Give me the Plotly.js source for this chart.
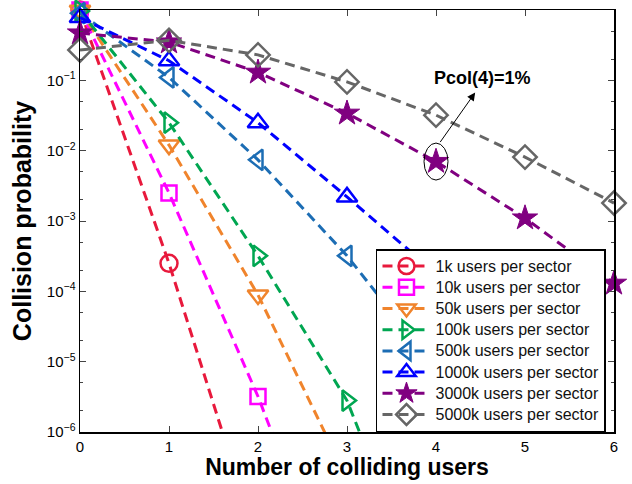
<!DOCTYPE html>
<html><head><meta charset="utf-8">
<script src="https://cdn.plot.ly/plotly-3.0.1.min.js"></script>
<style>html,body{margin:0;padding:0;background:#fff}</style>
</head><body><div id="chart" style="width:632px;height:484px"></div>
<script>
// ---- data ----
const colliding = [0, 1, 2, 3, 4, 5, 6];
const seriesNames = ["1k users per sector", "10k users per sector", "50k users per sector", "100k users per sector",
  "500k users per sector", "1000k users per sector", "3000k users per sector", "5000k users per sector"];
const p1k    = [0.999, 2.5e-4, 2.5e-8];
const p10k   = [0.998, 2.5e-3, 3.2e-6, 1.6e-9];
const p50k   = [0.99, 1.2e-2, 8.9e-5, 2.2e-7];
const p100k  = [0.97, 2.5e-2, 3.2e-4, 2.8e-6, 1.8e-9];
const p500k  = [0.9, 0.11, 7.4e-3, 3.2e-4, 8e-6, 2e-7];
const p1000k = [0.78, 0.19, 2.5e-2, 2.2e-3, 1.8e-4, 8e-6, 2.5e-7];
const p3000k = [0.47, 0.35, 0.13, 0.034, 7e-3, 1.1e-3, 1.3e-4];
const p5000k = [0.27, 0.37, 0.23, 0.095, 0.032, 8.1e-3, 1.8e-3];
const yTickVals = [1e-6, 1e-5, 1e-4, 1e-3, 1e-2, 1e-1, 1];
const yTickText = ["10<sup>−6</sup>", "10<sup>−5</sup>", "10<sup>−4</sup>", "10<sup>−3</sup>", "10<sup>−2</sup>", "10<sup>−1</sup>", "10<sup>0</sup>"];
const annotText = "Pcol(4)=1%";

// ---- styling ----
const allSeries = [p1k, p10k, p50k, p100k, p500k, p1000k, p3000k, p5000k];
const colors = ["#e8193c", "#ff00ff", "#f0842c", "#00a651", "#1c6db4", "#0000ff", "#800080", "#666666"];
const symbols = ["circle-open", "square-open", "triangle-down-open", "triangle-right-open",
  "triangle-left-open", "triangle-up-open", "star", "diamond-open"];
const sizes = [17, 15, 18, 18, 18, 18, 19, 18];
const FONT = "Liberation Sans, Arial, Helvetica, sans-serif";
const YMIN = 1e-6;

const traces = allSeries.map((ys, i) => {
  const xs = colliding.slice(0, ys.length);
  const mc = ys.map(v => v < YMIN ? "rgba(0,0,0,0)" : colors[i]);
  const filled = symbols[i] === "star";
  return {
    x: xs, y: ys, name: '<span style="font-size:16px">' + seriesNames[i] + '</span>',
    type: "scatter", mode: "lines+markers",
    cliponaxis: false,
    line: {color: colors[i], width: 3, dash: "10px,6px"},
    marker: {symbol: symbols[i], size: sizes[i], color: mc,
      line: {color: mc, width: filled ? 1 : 2.5}}
  };
});

// annotation anchored to the 3000k point at x=4
const starX = 4, starV = p3000k[4];
const yPaper = v => (Math.log10(v) + 6) / 6;
const layout = {
  width: 632, height: 484,
  margin: {l: 80, r: 18, t: 10, b: 52},
  paper_bgcolor: "#fff", plot_bgcolor: "#fff",
  font: {family: FONT, color: "#000", size: 15},
  showlegend: true,
  legend: {x: 0.985, y: 0.0, xanchor: "right", yanchor: "bottom",
    bgcolor: "#fff", bordercolor: "#000", borderwidth: 1.5,
    font: {family: FONT, size: 14, color: "#111"}, itemwidth: 48, tracegroupgap: 0},
  xaxis: {range: [0, 6], tickvals: colliding, ticks: "inside", ticklen: 6, tickwidth: 1,
    showline: true, linecolor: "#000", linewidth: 1.5, mirror: "ticks", showgrid: false, zeroline: false,
    tickfont: {family: FONT, size: 15},
    title: {text: "<b>Number of colliding users</b>", font: {family: FONT, size: 23}, standoff: 4}},
  yaxis: {type: "log", range: [-6, 0], tickvals: yTickVals, ticktext: yTickText,
    ticks: "inside", ticklen: 6, tickwidth: 1,
    minor: {ticks: "inside", ticklen: 3, tickwidth: 1, showgrid: false},
    showline: true, linecolor: "#000", linewidth: 1.5, mirror: "ticks", showgrid: false, zeroline: false,
    tickfont: {family: FONT, size: 15},
    title: {text: "<b>Collision probability</b>", font: {family: FONT, size: 25}, standoff: 8}},
  shapes: [{type: "circle", xref: "x", yref: "paper",
    x0: starX - 12 / 89, x1: starX + 12 / 89,
    y0: yPaper(starV) - 18.5 / 422, y1: yPaper(starV) + 18.5 / 422,
    line: {color: "#000", width: 1}}],
  annotations: [
    {xref: "x", yref: "paper", x: starX + 0.44, y: yPaper(starV) + 69 / 422,
      ax: -36, ay: 51, axref: "pixel", ayref: "pixel", text: "", showarrow: true,
      arrowhead: 2, arrowsize: 1.6, arrowwidth: 1, arrowcolor: "#000", standoff: 0, startstandoff: 0},
    {xref: "x", yref: "paper", x: starX + 0.52, y: yPaper(starV) + 84 / 422, yanchor: "middle",
      text: "<b>" + annotText + "</b>",
      showarrow: false, font: {family: FONT, size: 18, color: "#000"}}
  ]
};
Plotly.newPlot("chart", traces, layout, {displayModeBar: false, staticPlot: true});
</script></body></html>
